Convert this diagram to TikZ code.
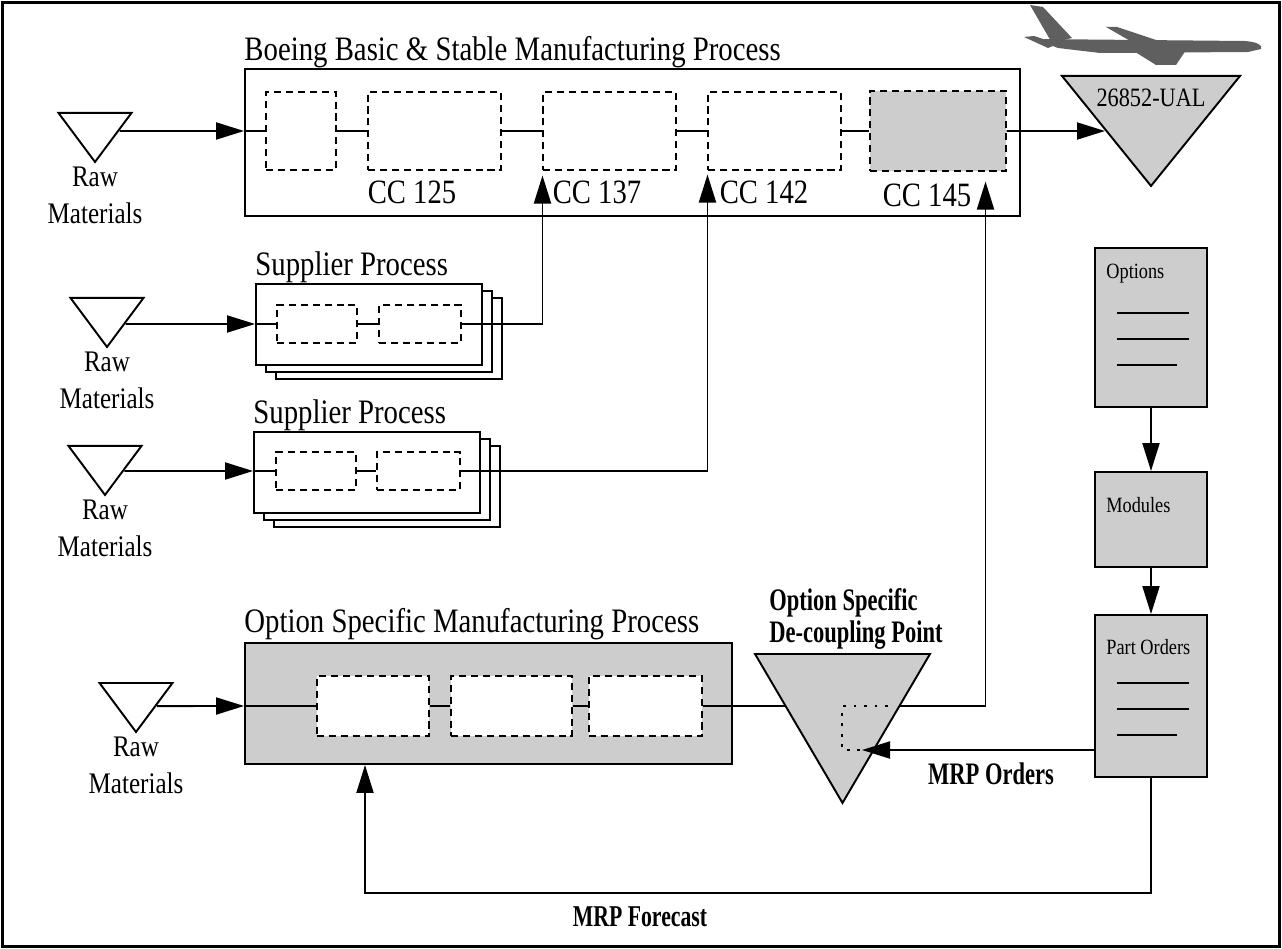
\documentclass[tikz,border=0pt]{standalone}
\usepackage{fontspec}
\setmainfont{Liberation Serif}[FakeStretch=0.84]
\newfontfamily\narrowbold{Liberation Serif}[FakeStretch=0.72]
\usepackage{tikz}
\usetikzlibrary{arrows.meta,shapes.geometric,positioning,shadows,calc}
\definecolor{mfgray}{RGB}{205,205,205}
\definecolor{planegray}{RGB}{95,95,95}
\tikzstyle{process} = [rectangle, draw, line width=1.1pt, fill=white, inner sep=0pt]
\tikzstyle{cell} = [rectangle, draw, line width=0.6pt, dash pattern=on 4pt off 2.8pt, fill=white, inner sep=0pt, minimum height=1.56cm]
\tikzstyle{subcell} = [cell, minimum height=0.76cm]
\tikzstyle{supplier} = [process, minimum width=4.52cm, minimum height=1.62cm, copy shadow={shadow xshift=0.4cm, shadow yshift=-0.28cm}, copy shadow={shadow xshift=0.2cm, shadow yshift=-0.14cm}]
\tikzstyle{inventory} = [isosceles triangle, isosceles triangle stretches, shape border rotate=270, draw, line width=1.1pt, fill=white, inner sep=0pt, anchor=lower side]
\tikzstyle{rawstock} = [inventory, minimum width=1.46cm, minimum height=0.98cm]
\tikzstyle{doc} = [rectangle, draw, line width=1.1pt, fill=mfgray, minimum width=2.24cm, inner sep=0pt]
\tikzstyle{arrow} = [line width=1.1pt, -{Triangle[length=0.56cm, width=0.34cm]}]
\tikzstyle{flow} = [line width=1.1pt]
\tikzstyle{title} = [inner sep=0pt, anchor=base west, font=\fontsize{19.5}{21}\selectfont]
\tikzstyle{cclabel} = [inner sep=0pt, anchor=base west, font=\fontsize{19.4}{21}\selectfont]
\tikzstyle{rawlabel} = [inner sep=0pt, align=center, font=\fontsize{17}{21}\selectfont]
\tikzstyle{boldlabel} = [inner sep=0pt, font=\narrowbold\bfseries\fontsize{17.8}{18}\selectfont]
\tikzstyle{doclabel} = [inner sep=0pt, anchor=base west, font=\fontsize{12.4}{14}\selectfont]

\begin{document}
\begin{tikzpicture}[x=0.02cm, y=-0.02cm]
\useasboundingbox (0,0) rectangle (1282,949);
\draw[line width=1.7pt] (2.5,2.5) rectangle (1279.5,946.5);

% Basic and stable line
\node (main) [process, minimum width=15.5cm, minimum height=2.94cm] at (632.5,142.5) {};
\node (maintitle) [title] at ([yshift=0.16cm]main.north west) {Boeing Basic \& Stable Manufacturing Process};
\node (c0) [cell, minimum width=1.4cm] at (301,131) {};
\node (c125) [cell, minimum width=2.66cm] at (434.5,131) {};
\node (c137) [cell, minimum width=2.66cm] at (609.5,131) {};
\node (c142) [cell, minimum width=2.66cm] at (774.5,131) {};
\node (c145) [cell, fill=mfgray, minimum width=2.72cm, minimum height=1.6cm] at (938,131) {};
\node (l125) [cclabel] at ([yshift=-0.66cm]c125.south west) {CC 125};
\node (l137) [cclabel] at ([xshift=0.2cm, yshift=-0.66cm]c137.south west) {CC 137};
\node (l142) [cclabel] at ([xshift=0.24cm, yshift=-0.66cm]c142.south west) {CC 142};
\node (l145) [cclabel] at ([xshift=0.26cm, yshift=-0.7cm]c145.south west) {CC 145};
\draw[flow] (c0.west -| main.west) -- (c0);
\draw[flow] (c0) -- (c125);
\draw[flow] (c125) -- (c137);
\draw[flow] (c137) -- (c142);
\draw[flow] (c142) -- (c145);

% Customer order
\node (ual) [inventory, fill=mfgray, minimum width=3.56cm, minimum height=2.2cm] at (1151,75) {};
\node (ualname) [inner sep=0pt, font=\fontsize{15.1}{16}\selectfont, below=0.28cm of ual.lower side] {26852-UAL};
\draw[arrow] (c145) -- (intersection of ual.right corner--ual.apex and c145.west--c145.east);

% aircraft
\fill[planegray] (1030,5) -- (1043,7) -- (1072,38) -- (1052,43) -- cycle;
\fill[planegray] (1024,37) -- (1034,36) -- (1058,44) -- (1048,48) -- cycle;
\fill[planegray] (1106,27) -- (1117,27) -- (1162,42) -- (1132,42) -- cycle;
\fill[planegray] (1035,39) -- (1245,41) .. controls (1257,42) and (1263,45) .. (1261,49) -- (1248,52) -- (1100,53) -- (1058,48) -- cycle;
\fill[planegray] (1132,50) -- (1186,50) -- (1176,65) -- (1156,65) -- cycle;

% Raw materials into the basic line
\node (rm1) [rawstock] at (95,112) {};
\node (rm1name) [rawlabel, below=0.04cm of rm1.apex] {Raw\\Materials};
\draw[arrow] (intersection of rm1.left corner--rm1.apex and c0.west--c0.east) -- (c0.west -| main.west);

% Supplier processes
\node (sp1) [supplier] at (369,324.5) {};
\node (sp1title) [title] at ([yshift=0.16cm]sp1.north west) {Supplier Process};
\node (s1a) [subcell, minimum width=1.6cm] at (317,324) {};
\node (s1b) [subcell, minimum width=1.64cm] at (420,324) {};
\node (sp2) [supplier] at (367,472.5) {};
\node (sp2title) [title] at ([yshift=0.16cm]sp2.north west) {Supplier Process};
\node (s2a) [subcell, minimum width=1.6cm] at (316,471) {};
\node (s2b) [subcell, minimum width=1.66cm] at (418.5,471) {};

\node (rm2) [rawstock] at (107,297) {};
\node (rm2name) [rawlabel, below=0.04cm of rm2.apex] {Raw\\Materials};
\node (rm3) [rawstock] at (105,445) {};
\node (rm3name) [rawlabel, below=0.04cm of rm3.apex] {Raw\\Materials};

\draw[arrow] (intersection of rm2.left corner--rm2.apex and s1a.west--s1a.east) -- (s1a.west -| sp1.west);
\draw[flow] (s1a.west -| sp1.west) -- (s1a);
\draw[flow] (s1a) -- (s1b);
\draw[arrow] (s1b.east) -| ([yshift=-0.1cm]c137.south west);
\draw[arrow] (intersection of rm3.left corner--rm3.apex and s2a.west--s2a.east) -- (s2a.west -| sp2.west);
\draw[flow] (s2a.west -| sp2.west) -- (s2a);
\draw[flow] (s2a) -- (s2b);
\draw[arrow] (s2b.east) -| ([yshift=-0.08cm]c142.south west);

% Option specific line
\node (osm) [process, fill=mfgray, minimum width=9.74cm, minimum height=2.42cm] at (488.5,703.5) {};
\node (osmtitle) [title] at ([yshift=0.2cm]osm.north west) {Option Specific Manufacturing Process};
\node (o1) [cell, minimum width=2.24cm, minimum height=1.2cm] at (373,706) {};
\node (o2) [cell, minimum width=2.42cm, minimum height=1.2cm] at (511.5,706) {};
\node (o3) [cell, minimum width=2.26cm, minimum height=1.2cm] at (645.5,706) {};
\node (rm4) [rawstock] at (136,682) {};
\node (rm4name) [rawlabel, below=0.04cm of rm4.apex] {Raw\\Materials};
\draw[arrow] (intersection of rm4.left corner--rm4.apex and o1.west--o1.east) -- (o1.west -| osm.west);
\draw[flow] (o1.west -| osm.west) -- (o1);
\draw[flow] (o1) -- (o2);
\draw[flow] (o2) -- (o3);
\draw[arrow] (o3.east) -| ([xshift=-0.42cm, yshift=-0.2cm]c145.south east);

% De-coupling point
\node (dp) [inventory, fill=mfgray, minimum width=3.5cm, minimum height=2.98cm] at (842.5,653) {};
\node (dpname) [boldlabel, align=left] at (856,619) {Option Specific\\De-coupling Point};
\coordinate (dpin) at (862,750);
\draw[line width=1.6pt, dash pattern=on 1.6pt off 4.4pt] (888,706) -- (842,706) -- (842,750) -- (dpin);

% Options, modules and part orders
\node (opts) [doc, minimum height=3.18cm] at (1151,327.5) {};
\node (mods) [doc, minimum height=1.9cm] at (1151,519.5) {};
\node (po) [doc, minimum height=3.24cm] at (1151,696) {};
\node (optsname) [doclabel] at ([xshift=0.24cm, yshift=-0.62cm]opts.north west) {Options};
\node (modsname) [doclabel] at ([xshift=0.24cm, yshift=-0.82cm]mods.north west) {Modules};
\node (poname) [doclabel] at ([xshift=0.24cm, yshift=-0.8cm]po.north west) {Part Orders};
\foreach \dy/\len in {1.32/1.44, 1.84/1.44, 2.36/1.2} {
  \draw[line width=1pt] ([xshift=0.46cm, yshift=-\dy cm]opts.north west) -- ++(\len cm,0);
  \draw[line width=1pt] ([xshift=0.46cm, yshift=-\dy cm-0.06cm]po.north west) -- ++(\len cm,0);
}
\draw[arrow] (opts) -- (mods);
\draw[arrow] (mods) -- (po);

% MRP feeds
\draw[arrow] (dpin -| po.west) -- (dpin);
\node (mrporders) [boldlabel] at (991,774) {MRP Orders};
\coordinate (fc) at (365,893);
\draw[arrow] (po.south) |- (fc) -- (fc |- osm.south);
\node (forecast) [boldlabel, font=\narrowbold\bfseries\fontsize{17.2}{18}\selectfont] at (640,917) {MRP Forecast};
\end{tikzpicture}
\end{document}
